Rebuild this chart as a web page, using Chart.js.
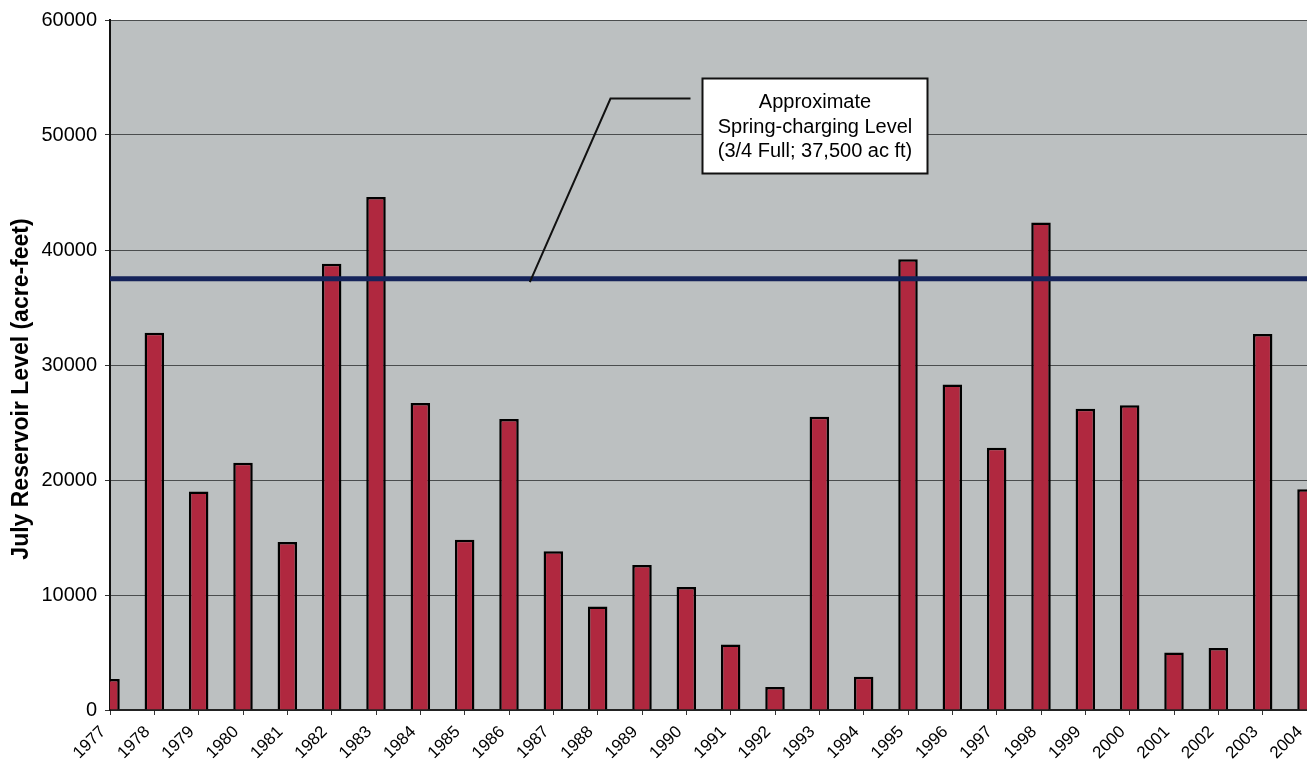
<!DOCTYPE html>
<html>
<head>
<meta charset="utf-8">
<title>July Reservoir Level</title>
<script src="https://cdn.jsdelivr.net/npm/chart.js@4/dist/chart.umd.min.js"></script>
<style>
  html, body { margin: 0; padding: 0; background: #ffffff; }
  #wrap { width: 1307px; height: 762px; position: relative; }
</style>
</head>
<body>
<div id="wrap"><canvas id="chart" width="1307" height="762"></canvas></div>
<script>
// Water years shown on the category axis
const years = ['1977','1978','1979','1980','1981','1982','1983','1984','1985','1986',
               '1987','1988','1989','1990','1991','1992','1993','1994','1995','1996',
               '1997','1998','1999','2000','2001','2002','2003','2004'];

// July storage in the reservoir (acre-feet)
const julyLevel = [2700, 32800, 19000, 21500, 14600, 38800, 44600, 26700, 14800, 25300,
                   13800, 9000, 12600, 10700, 5700, 2000, 25500, 2900, 39200, 28300,
                   22800, 42400, 26200, 26500, 5000, 5400, 32700, 19200];

// Value axis ticks
const yTicks = [0, 10000, 20000, 30000, 40000, 50000, 60000];

// Spring-charging reference level (3/4 full)
const springLevel = 37500;
const calloutLines = ['Approximate', 'Spring-charging Level', '(3/4 Full; 37,500 ac ft)'];
// where the callout box sits and where its leader meets the level line (category index, acre-feet)
const calloutCenter = { x: 15.9, y: 50800 };
const leaderTip = { x: 9.47, y: 37200 };

const axisTitle = 'July Reservoir Level (acre-feet)';

const plotBackground = {
  id: 'plotBackground',
  beforeDraw(chart) {
    const { ctx, chartArea: a } = chart;
    ctx.save();
    ctx.fillStyle = '#bcc0c1';
    ctx.fillRect(a.left, a.top, a.right - a.left, a.bottom - a.top);
    ctx.restore();
  }
};

const levelAndCallout = {
  id: 'levelAndCallout',
  afterDatasetsDraw(chart) {
    const { ctx, chartArea: a, scales: { x, y } } = chart;
    ctx.save();

    // reference level line
    const ly = y.getPixelForValue(springLevel);
    ctx.beginPath();
    ctx.rect(a.left, a.top, a.right - a.left, a.bottom - a.top);
    ctx.clip();
    ctx.strokeStyle = '#15235a';
    ctx.lineWidth = 5;
    ctx.beginPath();
    ctx.moveTo(a.left, ly);
    ctx.lineTo(a.right, ly);
    ctx.stroke();

    // callout box
    ctx.font = '20px "Liberation Sans", Arial, sans-serif';
    const lineH = 24.5;
    let w = 0;
    calloutLines.forEach(t => { w = Math.max(w, ctx.measureText(t).width); });
    const bw = Math.round(w + 30);
    const bh = Math.round(lineH * calloutLines.length + 21);
    const cx = x.getPixelForValue(calloutCenter.x);
    const cy = y.getPixelForValue(calloutCenter.y);
    const bx = Math.round(cx - bw / 2) + 0.5;
    const by = Math.round(cy - bh / 2) + 0.5;

    // leader from the box down to the level line
    const tipX = x.getPixelForValue(leaderTip.x);
    const tipY = y.getPixelForValue(leaderTip.y);
    const startY = by + 20;
    ctx.strokeStyle = '#111';
    ctx.lineWidth = 2;
    ctx.beginPath();
    ctx.moveTo(bx - 12, startY);
    ctx.lineTo(bx - 92, startY);
    ctx.lineTo(tipX, tipY);
    ctx.stroke();

    ctx.fillStyle = '#ffffff';
    ctx.fillRect(bx, by, bw, bh);
    ctx.strokeStyle = '#111';
    ctx.lineWidth = 2;
    ctx.strokeRect(bx, by, bw, bh);

    ctx.fillStyle = '#000';
    ctx.textAlign = 'center';
    ctx.textBaseline = 'middle';
    calloutLines.forEach((t, i) => {
      ctx.fillText(t, bx + bw / 2, by + 11 + lineH * (i + 0.5) + 1);
    });
    ctx.restore();
  }
};

const valueAxisTitle = {
  id: 'valueAxisTitle',
  afterDraw(chart) {
    const { ctx } = chart;
    ctx.save();
    ctx.translate(22, 389);
    ctx.rotate(-Math.PI / 2);
    ctx.font = 'bold 23px "Liberation Sans", Arial, sans-serif';
    ctx.fillStyle = '#000';
    ctx.textAlign = 'center';
    ctx.textBaseline = 'middle';
    ctx.fillText(axisTitle, 0, 0);
    ctx.restore();
  }
};

new Chart(document.getElementById('chart'), {
  type: 'bar',
  data: {
    labels: years,
    datasets: [{
      data: julyLevel,
      backgroundColor: '#b0283f',
      borderColor: '#000000',
      borderWidth: 2.5,
      borderSkipped: 'start',
      barPercentage: 0.44,
      categoryPercentage: 1.0,
      clip: 0
    }]
  },
  options: {
    responsive: false,
    devicePixelRatio: 1,
    animation: false,
    layout: { padding: { top: 20, right: 0, bottom: 0, left: 0 } },
    plugins: {
      legend: { display: false },
      tooltip: { enabled: false },
      title: { display: false }
    },
    scales: {
      x: {
        offset: false,
        grid: {
          offset: false,
          drawOnChartArea: false,
          drawTicks: true,
          tickLength: 5,
          color: '#333'
        },
        border: { display: true, color: '#222', width: 2 },
        ticks: {
          autoSkip: false,
          maxRotation: 45,
          minRotation: 45,
          padding: 7,
          labelOffset: -7,
          color: '#000',
          font: { family: '"Liberation Sans", Arial, sans-serif', size: 17 }
        },
        afterFit(scale) {
          scale.height = 52;
          scale.paddingLeft = 0;
          scale.paddingRight = 0;
        }
      },
      y: {
        min: 0,
        max: 60000,
        afterBuildTicks(scale) {
          scale.ticks = yTicks.map(v => ({ value: v }));
        },
        grid: {
          color: '#4a4d4e',
          lineWidth: 1,
          drawTicks: true,
          tickLength: 5,
          tickColor: '#333'
        },
        border: { display: true, color: '#111', width: 2 },
        ticks: {
          padding: 8,
          color: '#000',
          font: { family: '"Liberation Sans", Arial, sans-serif', size: 20 },
          callback: v => String(v)
        },
        afterFit(scale) {
          scale.width = 110;
        }
      }
    }
  },
  plugins: [plotBackground, levelAndCallout, valueAxisTitle]
});
</script>
</body>
</html>
